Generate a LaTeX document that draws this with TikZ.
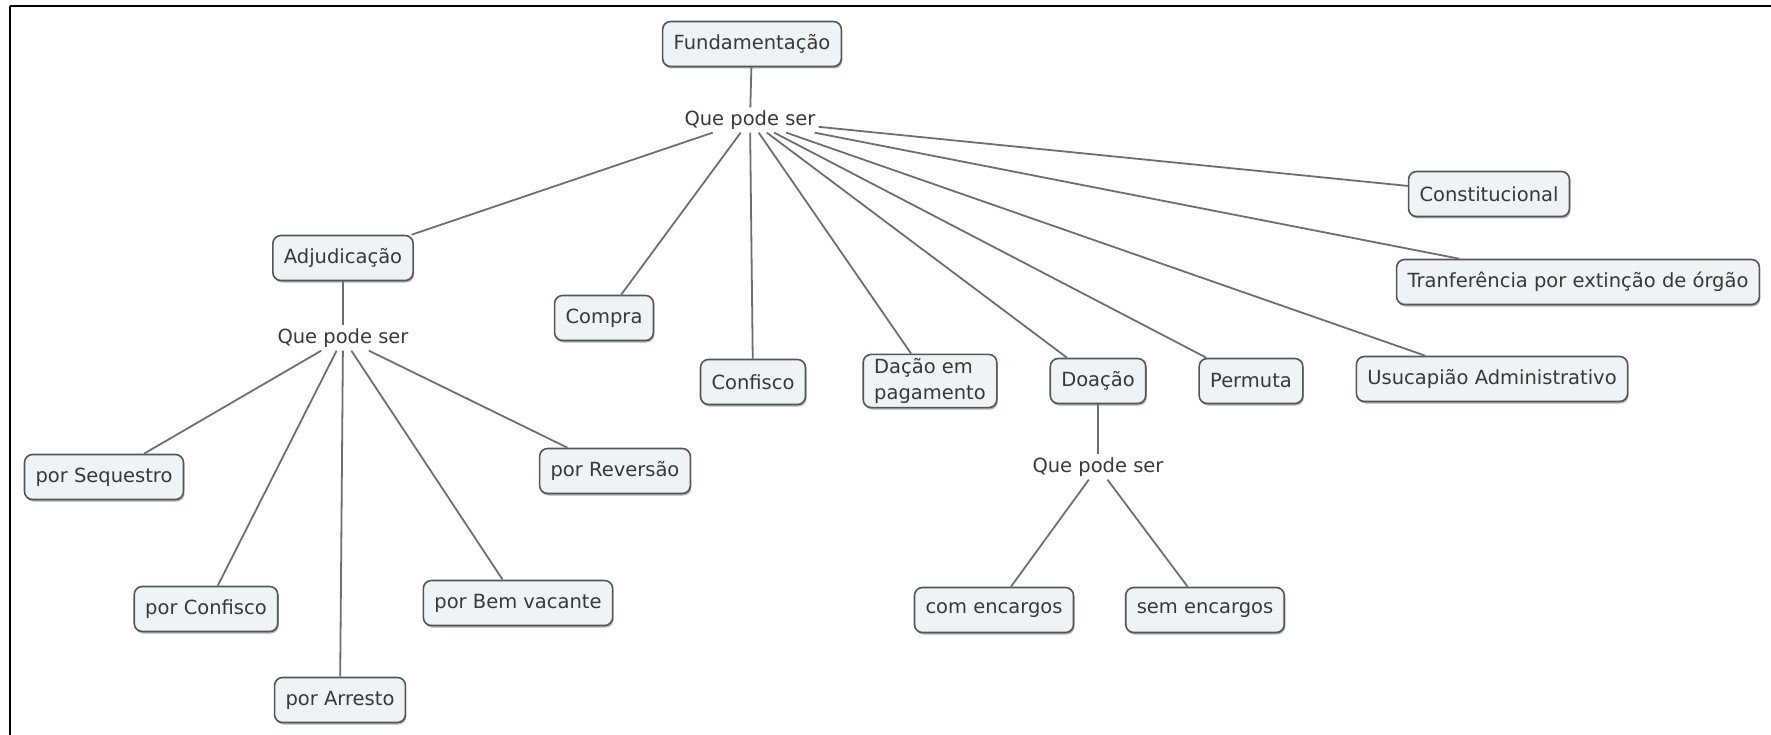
\documentclass[tikz,border=0pt]{standalone}
\usepackage{fontspec}
\setmainfont{DejaVu Sans}
\usetikzlibrary{shadows}
\definecolor{boxfill}{HTML}{EEF3F6}
\definecolor{boxline}{HTML}{555555}
\definecolor{linkline}{HTML}{6E6E6E}
\definecolor{txt}{HTML}{383838}
\begin{document}
\begin{tikzpicture}[x=1pt,y=-1pt,
  concept/.style={draw=boxline, line width=1.6pt, fill=boxfill, rounded corners=8pt,
    inner xsep=11pt, inner ysep=4pt, minimum height=45pt, text=txt,
    font=\fontsize{19.5}{26}\selectfont,
    drop shadow={shadow xshift=1pt, shadow yshift=-2pt, opacity=0.3, fill=black}},
  linkword/.style={inner sep=3pt, text=txt, font=\fontsize{19.5}{26}\selectfont},
  link/.style={draw=linkline, line width=1.8pt}]
\useasboundingbox (0,0) rectangle (1771,735);
% frame lines
\draw[line width=2.5pt] (10,6) -- (1771,6);
\draw[line width=2.5pt] (10,6) -- (10,735);

% root and first level
\node[concept] (fund) at (752,44) {Fundamentação};
\node[linkword] (q1) at (750,120) {Que pode ser};
\node[concept] (adj) at (343,258) {Adjudicação};
\node[concept] (compra) at (604,318) {Compra};
\node[concept] (confisco) at (753,382) {Confisco};
\node[concept, align=left] (dacao) at (930,381) {Dação em\\pagamento};
\node[concept] (doacao) at (1098,381) {Doação};
\node[concept] (permuta) at (1251,381) {Permuta};
\node[concept] (usu) at (1492,379) {Usucapião Administrativo};
\node[concept] (const) at (1489,194) {Constitucional};
\node[concept] (tranf) at (1578,282) {Tranferência por extinção de órgão};

% Adjudicação branch
\node[linkword] (q2) at (343,338) {Que pode ser};
\node[concept] (seq) at (104,477) {por Sequestro};
\node[concept] (pconf) at (206,609) {por Confisco};
\node[concept] (arr) at (340,700) {por Arresto};
\node[concept] (bem) at (518,603) {por Bem vacante};
\node[concept] (rev) at (615,471) {por Reversão};

% Doação branch
\node[linkword] (q3) at (1098,467) {Que pode ser};
\node[concept] (com) at (994,610) {com encargos};
\node[concept] (sem) at (1205,610) {sem encargos};

% connectors
\draw[link] (fund) -- (q1);
\foreach \n in {adj,compra,confisco,dacao,doacao,permuta,usu,tranf,const}
  \draw[link] (q1) -- (\n);
\draw[link] (adj) -- (q2);
\foreach \n in {seq,pconf,arr,bem,rev}
  \draw[link] (q2) -- (\n);
\draw[link] (doacao) -- (q3);
\foreach \n in {com,sem}
  \draw[link] (q3) -- (\n);
\end{tikzpicture}
\end{document}
